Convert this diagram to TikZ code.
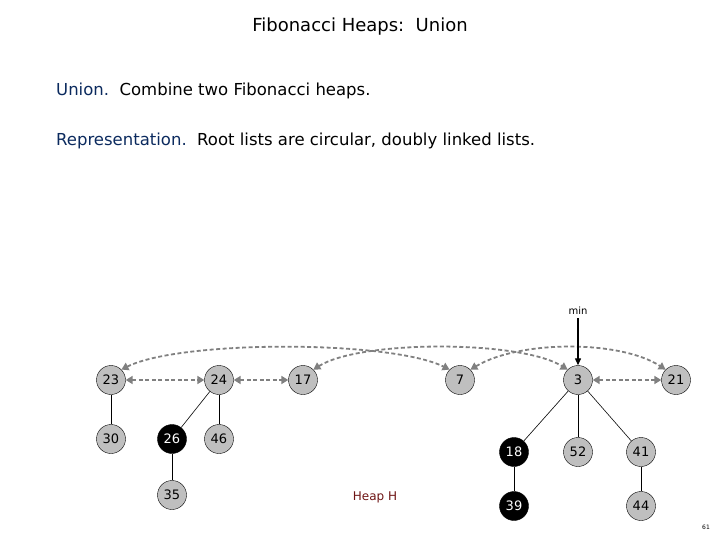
\documentclass[tikz,border=0pt]{standalone}
\usepackage{fontspec}
\setmainfont{DejaVu Sans}
\usetikzlibrary{arrows.meta}
\begin{document}
\begin{tikzpicture}[x=1pt,y=-1pt,
 hn/.style={circle,draw=black,fill=gray!50,minimum size=29pt,inner sep=0pt,font=\fontsize{13}{14}\selectfont},
 mk/.style={hn,fill=black,text=white},
 lnk/.style={draw=gray,color=gray,line width=1.8pt,dash pattern=on 4pt off 2.5pt,{Triangle[width=8pt,length=7pt]}-{Triangle[width=8pt,length=7pt]}},
 tr/.style={draw=black,line width=0.6pt}]
\useasboundingbox (0,0) rectangle (720,540);
\node (title) at (360,27) {\fontsize{18}{20}\selectfont Fibonacci Heaps:\ \ Union};
\node[anchor=west,inner sep=0pt] (l1) at (56,91) {\fontsize{16.5}{18}\selectfont \textcolor[HTML]{0B2A5E}{Union.}\ \ Combine two Fibonacci heaps.};
\node[anchor=west,inner sep=0pt] (l2) at (56,141) {\fontsize{16.5}{18}\selectfont \textcolor[HTML]{0B2A5E}{Representation.}\ \ Root lists are circular, doubly linked lists.};
\node[hn] (n23) at (111,380) {23};
\node[hn] (n24) at (219,380) {24};
\node[hn] (n17) at (303,380) {17};
\node[hn] (n7) at (460,380) {7};
\node[hn] (n3) at (578,380) {3};
\node[hn] (n21) at (676,380) {21};
\node[hn] (n30) at (111,439) {30};
\node[mk] (n26) at (172,439) {26};
\node[hn] (n46) at (219,439) {46};
\node[hn] (n35) at (172,495) {35};
\node[mk] (n18) at (514,452) {18};
\node[hn] (n52) at (578,452) {52};
\node[hn] (n41) at (641,452) {41};
\node[mk] (n39) at (514,506) {39};
\node[hn] (n44) at (641,506) {44};
\draw[tr] (n23)--(n30); \draw[tr] (n24)--(n26); \draw[tr] (n24)--(n46); \draw[tr] (n26)--(n35);
\draw[tr] (n3)--(n18); \draw[tr] (n3)--(n52); \draw[tr] (n3)--(n41); \draw[tr] (n18)--(n39); \draw[tr] (n41)--(n44);
\draw[lnk] (n23)--(n24); \draw[lnk] (n24)--(n17); \draw[lnk] (n3)--(n21);
\draw[lnk] (n23.north east) .. controls (180,340) and (390,340) .. (n7.north west);
\draw[lnk] (n17.north east) .. controls (360,340) and (520,340) .. (n3.north west);
\draw[lnk] (n7.north east) .. controls (520,340) and (620,340) .. (n21.north west);
\node (min) at (578,311) {\fontsize{10}{11}\selectfont min};
\coordinate (mt) at (578,318);
\draw[-{Triangle[width=6pt,length=7pt]},line width=1.3pt] (mt)--(n3.north);
\node[text={rgb,255:red,110;green,20;blue,20}] (hh) at (375,497) {\fontsize{12}{13}\selectfont Heap H};
\node (pg) at (706,527) {\fontsize{6}{7}\selectfont 61};
\end{tikzpicture}
\end{document}
